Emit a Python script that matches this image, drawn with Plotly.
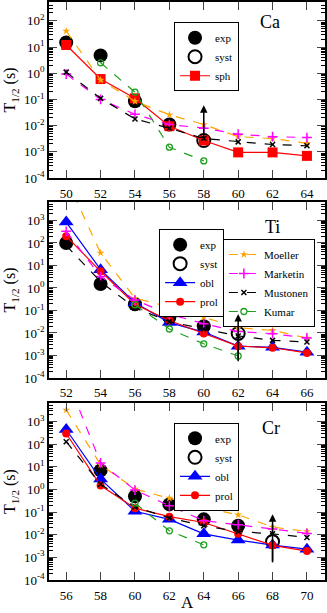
import numpy as np
import plotly.graph_objects as go

# ---------------- data ----------------
# Ca
ca_A = [50, 52, 54, 56, 58, 60, 62, 64]
ca_exp_A = [50, 52, 54, 56]
ca_exp = [15, 4.8, 0.085, 0.011]
ca_syst_A = [58]
ca_syst = [0.0027]
ca_syst_up = [0.06]
ca_syst_lo = [0.0027]
ca_sph = [12, 0.6, 0.11, 0.0095, 0.0027, 0.00095, 0.00095, 0.0007]
ca_moeller = [41, 0.55, 0.085, 0.026, 0.011, 0.0038, 0.0032, 0.0021]
ca_marketin = [0.93, 0.1, 0.027, 0.011, 0.008, 0.0047, 0.0038, 0.0035]
ca_mustonen = [1.1, 0.11, 0.018, 0.008, 0.0032, 0.0024, 0.0019, 0.0017]
ca_kumar_A = [52, 54, 56, 58]
ca_kumar = [2.5, 0.19, 0.0015, 0.00045]

# Ti
ti_A = [52, 54, 56, 58, 60, 62, 64, 66]
ti_exp_A = [52, 54, 56, 58, 60]
ti_exp = [100, 1.5, 0.19, 0.05, 0.02]
ti_syst_A = [62]
ti_syst = [0.0095]
ti_syst_up = [0.07]
ti_syst_lo = [0.00056]
ti_obl = [850, 6.5, 0.22, 0.029, 0.011, 0.0026, 0.0023, 0.0014]
ti_prol = [200, 5.5, 0.19, 0.036, 0.0095, 0.0026, 0.0022, 0.0013]
ti_moeller = [74000, 36, 0.35, 0.145, 0.05, 0.017, 0.013, 0.006]
ti_marketin = [330, 3.2, 0.29, 0.068, 0.026, 0.0115, 0.0093, 0.006]
ti_mustonen = [76, 1.9, 0.13, 0.032, 0.015, 0.0074, 0.0047, 0.004]
ti_kumar_A = [56, 58, 60, 62]
ti_kumar = [0.18, 0.015, 0.0033, 0.00095]

# Cr
cr_A = [56, 58, 60, 62, 64, 66, 68, 70]
cr_exp_A = [58, 60, 62, 64, 66]
cr_exp = [7.0, 0.5, 0.22, 0.048, 0.025]
cr_syst_A = [68]
cr_syst = [0.005]
cr_syst_up = [0.08]
cr_syst_lo = [0.0006]
cr_obl = [450, 2.9, 0.11, 0.048, 0.011, 0.0058, 0.0035, 0.0023]
cr_prol = [300, 1.5, 0.15, 0.063, 0.035, 0.011, 0.0034, 0.0019]
cr_moeller = [3300, 12.5, 1.05, 0.42, 0.16, 0.076, 0.022, 0.014]
cr_marketin = [100000, 15, 0.95, 0.19, 0.042, 0.028, 0.018, 0.0115]
cr_mustonen = [130, 1.7, 0.17, 0.055, 0.025, 0.014, 0.011, 0.0076]
cr_kumar_A = [60, 62, 64]
cr_kumar = [0.25, 0.015, 0.0036]

panels = ["Ca", "Ti", "Cr"]
x_ranges = [[49, 65.05], [51, 67.05], [55, 71.05]]
y_ranges = [[-4, 2.72], [-4, 3.82], [-4, 3.82]]
x_ticks = [ca_A, ti_A, cr_A]
y_exponents = [list(range(-4, 3)), list(range(-4, 4)), list(range(-4, 4))]

# ---------------- styling ----------------
FONT = "Liberation Serif"
ORANGE = "#FFA500"
MAGENTA = "#FF00FF"
GREEN = "#1E9E1E"
RED = "#FF0000"
BLUE = "#0000FF"

fig = go.Figure()

domains = [[0.6955, 1.0], [0.3495, 0.654], [0.0, 0.306]]


def add_common(ax, exp_A, exp, syst_A, syst, syst_lo, leg_exp):
    xa = "x" if ax == 1 else f"x{ax}"
    ya = "y" if ax == 1 else f"y{ax}"
    fig.add_trace(go.Scatter(x=exp_A, y=exp, mode="markers", name="exp", xaxis=xa, yaxis=ya,
                             marker=dict(symbol="circle", size=14, color="black"),
                             legend=leg_exp, showlegend=True))
    fig.add_trace(go.Scatter(x=syst_A, y=syst, mode="markers", name="syst", xaxis=xa, yaxis=ya,
                             marker=dict(symbol="circle-open", size=13, color="black", line=dict(width=2)),
                             error_y=dict(type="data", symmetric=False, array=[0.0] * len(syst),
                                          arrayminus=[s - l for s, l in zip(syst, syst_lo)],
                                          width=0, thickness=1.5, color="black"),
                             legend=leg_exp, showlegend=True))
    return xa, ya


def add_models(xa, ya, A, moel, mark, must, kum_A, kum, show, leg):
    fig.add_trace(go.Scatter(x=A, y=moel, mode="lines+markers", name="Moeller", xaxis=xa, yaxis=ya,
                             line=dict(color=ORANGE, dash="dash", width=1.2),
                             marker=dict(symbol="star", size=6, color=ORANGE),
                             legend=leg, showlegend=show))
    fig.add_trace(go.Scatter(x=A, y=mark, mode="lines+markers", name="Marketin", xaxis=xa, yaxis=ya,
                             line=dict(color=MAGENTA, dash="dash", width=1.2),
                             marker=dict(symbol="cross-thin-open", size=7, color=MAGENTA, line=dict(width=1.5, color=MAGENTA)),
                             legend=leg, showlegend=show))
    fig.add_trace(go.Scatter(x=A, y=must, mode="lines+markers", name="Mustonen", xaxis=xa, yaxis=ya,
                             line=dict(color="black", dash="dash", width=1.2),
                             marker=dict(symbol="x-thin-open", size=5, color="black", line=dict(width=1.5, color="black")),
                             legend=leg, showlegend=show))
    fig.add_trace(go.Scatter(x=kum_A, y=kum, mode="lines+markers", name="Kumar", xaxis=xa, yaxis=ya,
                             line=dict(color=GREEN, dash="dash", width=1.2),
                             marker=dict(symbol="circle-open", size=6, color=GREEN, line=dict(width=1.3, color=GREEN)),
                             legend=leg, showlegend=show))


# Ca
xa, ya = add_common(1, ca_exp_A, ca_exp, ca_syst_A, ca_syst, ca_syst_lo, "legend")
fig.add_trace(go.Scatter(x=ca_A, y=ca_sph, mode="lines+markers", name="sph", xaxis=xa, yaxis=ya,
                         line=dict(color=RED, width=1.2), marker=dict(symbol="square", size=10, color=RED),
                         legend="legend"))
add_models(xa, ya, ca_A, ca_moeller, ca_marketin, ca_mustonen, ca_kumar_A, ca_kumar, False, "legend")

# Ti
xa, ya = add_common(2, ti_exp_A, ti_exp, ti_syst_A, ti_syst, ti_syst_lo, "legend2")
fig.add_trace(go.Scatter(x=ti_A, y=ti_obl, mode="lines+markers", name="obl", xaxis=xa, yaxis=ya,
                         line=dict(color=BLUE, width=1.2), marker=dict(symbol="triangle-up", size=13, color=BLUE),
                         legend="legend2"))
fig.add_trace(go.Scatter(x=ti_A, y=ti_prol, mode="lines+markers", name="prol", xaxis=xa, yaxis=ya,
                         line=dict(color=RED, width=1.2), marker=dict(symbol="circle", size=8, color=RED),
                         legend="legend2"))
add_models(xa, ya, ti_A, ti_moeller, ti_marketin, ti_mustonen, ti_kumar_A, ti_kumar, True, "legend3")

# Cr
xa, ya = add_common(3, cr_exp_A, cr_exp, cr_syst_A, cr_syst, cr_syst_lo, "legend4")
fig.add_trace(go.Scatter(x=cr_A, y=cr_obl, mode="lines+markers", name="obl", xaxis=xa, yaxis=ya,
                         line=dict(color=BLUE, width=1.2), marker=dict(symbol="triangle-up", size=13, color=BLUE),
                         legend="legend4"))
fig.add_trace(go.Scatter(x=cr_A, y=cr_prol, mode="lines+markers", name="prol", xaxis=xa, yaxis=ya,
                         line=dict(color=RED, width=1.2), marker=dict(symbol="circle", size=8, color=RED),
                         legend="legend4"))
add_models(xa, ya, cr_A, cr_moeller, cr_marketin, cr_mustonen, cr_kumar_A, cr_kumar, False, "legend4")

# axes
layout = {}
for i in range(3):
    n = "" if i == 0 else str(i + 1)
    exps = y_exponents[i]
    major = [10.0 ** e for e in exps]
    minor_vals = [m * 10.0 ** e for e in range(-4, 4) for m in range(2, 10)]
    layout["xaxis" + n] = dict(
        range=x_ranges[i], tickvals=x_ticks[i], ticks="inside", ticklen=8, tickwidth=1.2,
        showline=True, linewidth=1.8, linecolor="black", mirror="allticks", showgrid=False,
        zeroline=False, tickfont=dict(family=FONT, size=13, color="black"),
        anchor="y" + n, domain=[0, 1], automargin=False, ticklabelstandoff=2,
    )
    layout["yaxis" + n] = dict(
        type="log", range=y_ranges[i], tickvals=major,
        ticktext=[f"10<sup>{e}</sup>" for e in exps], ticks="inside", ticklen=8,
        tickwidth=1.2, showline=True, linewidth=1.8, linecolor="black", mirror="allticks",
        showgrid=False, zeroline=False, tickfont=dict(family=FONT, size=13, color="black"),
        minor=dict(ticks="inside", ticklen=4, tickwidth=1, tickcolor="black", tickvals=minor_vals,
                   showgrid=False),
        anchor="x" + n, domain=domains[i], automargin=False,
        title=dict(text="T<sub>1/2</sub> (s)", font=dict(family=FONT, size=16, color="black"), standoff=4),
    )

leg_common = dict(bgcolor="white", bordercolor="black", borderwidth=1,
                  font=dict(family=FONT, size=11, color="black"),
                  xanchor="left", yanchor="top", tracegroupgap=0, itemwidth=30)
layout["legend"] = dict(x=0.453, y=0.965, **leg_common)
layout["legend2"] = dict(x=0.399, y=0.607, **leg_common)
layout["legend3"] = dict(x=0.63, y=0.59, **leg_common)
layout["legend4"] = dict(x=0.453, y=0.272, **leg_common)

annotations = []
labels_y = [0.955, 0.925, 0.925]
for i, p in enumerate(panels):
    n = "" if i == 0 else str(i + 1)
    annotations.append(dict(text=p, x=0.845, y=labels_y[i], xref=f"x{n} domain", yref=f"y{n} domain",
                            showarrow=False, font=dict(family=FONT, size=18, color="black")))
annotations.append(dict(text="A", x=0.5, y=-0.128, xref="x3 domain", yref="y3 domain", showarrow=False,
                        yanchor="middle", font=dict(family=FONT, size=17, color="black")))

arrows = [(ca_syst_A, ca_syst_lo, ca_syst_up, 1), (ti_syst_A, ti_syst_lo, ti_syst_up, 2),
          (cr_syst_A, cr_syst_lo, cr_syst_up, 3)]
for A, lo, up, k in arrows:
    n = "" if k == 1 else str(k)
    for a, l, u in zip(A, lo, up):
        annotations.append(dict(x=a, y=np.log10(u), ax=a, ay=np.log10(l), xref="x" + n, yref="y" + n,
                                axref="x" + n, ayref="y" + n, text="", showarrow=True, arrowhead=2,
                                arrowsize=1, arrowwidth=1.5, arrowcolor="black", standoff=0, startstandoff=0))

fig.update_layout(**layout)
fig.update_layout(annotations=annotations, width=327, height=613,
                  margin=dict(l=49, r=2, t=2, b=33), plot_bgcolor="white", paper_bgcolor="white",
                  font=dict(family=FONT))
fig.write_html("out.html", config={"displayModeBar": False},
               post_script="document.body.style.margin='0';document.body.style.overflow='hidden';")
